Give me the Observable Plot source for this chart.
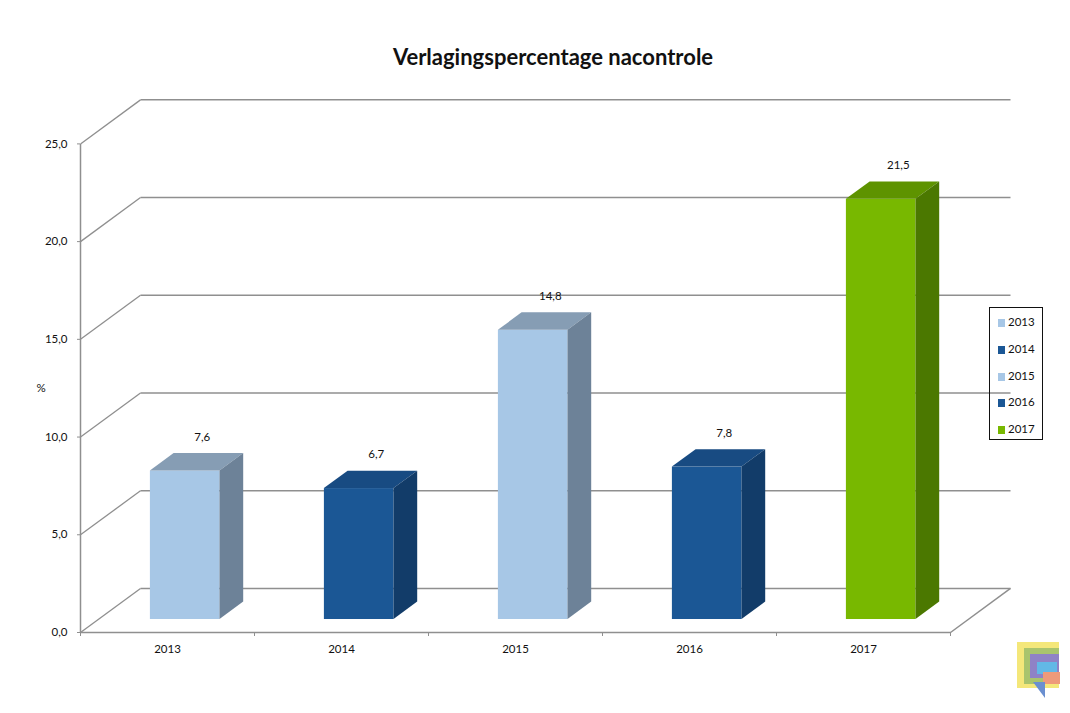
<!DOCTYPE html>
<html>
<head>
<meta charset="utf-8">
<script src="https://cdn.jsdelivr.net/npm/d3@7"></script>
<script src="https://cdn.jsdelivr.net/npm/@observablehq/plot@0.6"></script>
<style>
  html, body { margin: 0; padding: 0; background: #fff; }
  #wrap { position: relative; width: 1070px; height: 713px; overflow: hidden; font-family: Lato, "Open Sans", sans-serif; }
  #title { position: absolute; left: 553px; top: 44px; transform: translateX(-50%); white-space: nowrap;
           font-weight: bold; font-size: 22px; line-height: 26px; color: #111; }
  #chart { position: absolute; left: 0; top: 80px; }
  #legend { position: absolute; left: 989px; top: 307px; width: 54px; height: 133px; border: 1px solid #111; box-sizing: border-box; }
  .item { position: absolute; left: 8px; font-size: 11.5px; line-height: 12px; color: #111; }
  .sw { display: inline-block; width: 7px; height: 8px; margin-right: 3px; vertical-align: -1px; }
  .logo { position: absolute; }
</style>
</head>
<body>
<div id="wrap">
  <div id="title">Verlagingspercentage nacontrole</div>
  <div id="chart"></div>
  <div id="legend"></div>
  <div class="logo" style="left:1017px;top:642px;width:42px;height:46px;background:#f4e77a;"></div>
  <div class="logo" style="left:1024px;top:648px;width:35px;height:36px;background:#a9c46d;"></div>
  <div class="logo" style="left:1030px;top:654px;width:29px;height:24px;background:#8f82c6;"></div>
  <div class="logo" style="left:1037px;top:662px;width:20px;height:12px;background:#62b8e6;"></div>
  <div class="logo" style="left:1043px;top:672px;width:17px;height:12px;background:#ee9a7a;"></div>
  <div class="logo" style="left:1033px;top:682px;width:0;height:0;border-left:12px solid transparent;border-top:16px solid #6a8fd0;"></div>
</div>
<script>
// ---- data ----
const categories = ["2013", "2014", "2015", "2016", "2017"];
const values = [7.6, 6.7, 14.8, 7.8, 21.5];
const labels = ["7,6", "6,7", "14,8", "7,8", "21,5"];
const faceColors = ["#a7c7e6", "#1b5795", "#a7c7e6", "#1b5795", "#78b800"];
const topColors  = ["#869db4", "#184b82", "#869db4", "#184b82", "#5e9300"];
const sideColors = ["#6d8298", "#123c69", "#6d8298", "#123c69", "#4b7800"];
const yTicks = [0, 5, 10, 15, 20, 25];

// ---- 3D geometry (depth offsets in data units) ----
const DX = 60 / 174;      // depth shift along x (slot units)
const DY = 44 / 19.53;    // depth shift along y (value units)
const d0 = 0.295, d1 = 0.69; // bar front / back depth
const b0 = 0.3, b1 = 0.7;    // bar left / right within slot

const bars = categories.map((c, i) => ({c, i, v: values[i], label: labels[i],
  face: faceColors[i], top: topColors[i], side: sideColors[i]}));

const frontRects = bars.map(b => ({...b,
  x1: b.i + b0 + d0 * DX, x2: b.i + b1 + d0 * DX, y1: d0 * DY, y2: b.v + d0 * DY}));
const topPts = bars.flatMap(b => [d0, d1].map(d => ({...b,
  y: b.v + d * DY, x1: b.i + b0 + d * DX, x2: b.i + b1 + d * DX})));
const sidePts = bars.flatMap(b => [d0, d1].map(d => ({...b,
  x: b.i + b1 + d * DX, y1: d * DY, y2: b.v + d * DY})));

const backGrid = yTicks.map(t => ({x1: DX, x2: 5 + DX, y1: t + DY, y2: t + DY}));
const sideGrid = yTicks.map(t => ({x1: 0, x2: DX, y1: t, y2: t + DY}));
const frame = [
  {x1: 0, x2: 5, y1: 0, y2: 0},
  {x1: 5, x2: 5 + DX, y1: 0, y2: DY},
  {x1: 0, x2: 0, y1: 0, y2: 25}
];

const gridColor = "#8f8f8f";
const comma = d => d.toFixed(1).replace(".", ",");

const chart = Plot.plot({
  width: 1070,
  height: 633,
  marginLeft: 80,
  marginRight: 120,
  marginTop: 63.4,
  marginBottom: 81,
  style: {fontFamily: "Lato, 'Open Sans', sans-serif", fontSize: "11.5px", color: "#111", background: "transparent", overflow: "visible"},
  x: {domain: [0, 5]},
  y: {domain: [0, 25]},
  marks: [
    Plot.link(backGrid, {x1: "x1", x2: "x2", y1: "y1", y2: "y2", stroke: gridColor, strokeWidth: 1.5}),
    Plot.link(sideGrid, {x1: "x1", x2: "x2", y1: "y1", y2: "y2", stroke: gridColor, strokeWidth: 1.3}),
    Plot.link(frame, {x1: "x1", x2: "x2", y1: "y1", y2: "y2", stroke: gridColor, strokeWidth: 1.5}),
    Plot.axisY({ticks: yTicks, tickFormat: comma, tickSize: 3, tickPadding: 10, stroke: gridColor, label: null}),
    Plot.axisX({ticks: [0, 1, 2, 3, 4, 5], tickFormat: () => "", tickSize: 4, stroke: gridColor, label: null}),
    Plot.text(bars, {x: b => b.i + 0.5, y: 0, text: "c", dy: 17}),
    Plot.text(["%"], {frameAnchor: "left", dx: -44, text: d => d}),
    // bars: front, top, side faces
    Plot.rect(frontRects, {x1: "x1", x2: "x2", y1: "y1", y2: "y2", fill: "face"}),
    Plot.areaX(topPts, {y: "y", x1: "x1", x2: "x2", z: "c", fill: "top", curve: "linear"}),
    Plot.areaY(sidePts, {x: "x", y1: "y1", y2: "y2", z: "c", fill: "side", curve: "linear"}),
    Plot.text(bars, {x: b => b.i + 0.5 + 0.2, y: b => b.v + d1 * DY, text: "label", dy: -16.5})
  ]
});
document.getElementById("chart").appendChild(chart);

// legend
const legend = document.getElementById("legend");
categories.forEach((c, i) => {
  const el = document.createElement("div");
  el.className = "item";
  el.style.top = (8 + i * 26.8) + "px";
  el.innerHTML = `<span class="sw" style="background:${faceColors[i]}"></span>${c}`;
  legend.appendChild(el);
});
</script>
</body>
</html>
